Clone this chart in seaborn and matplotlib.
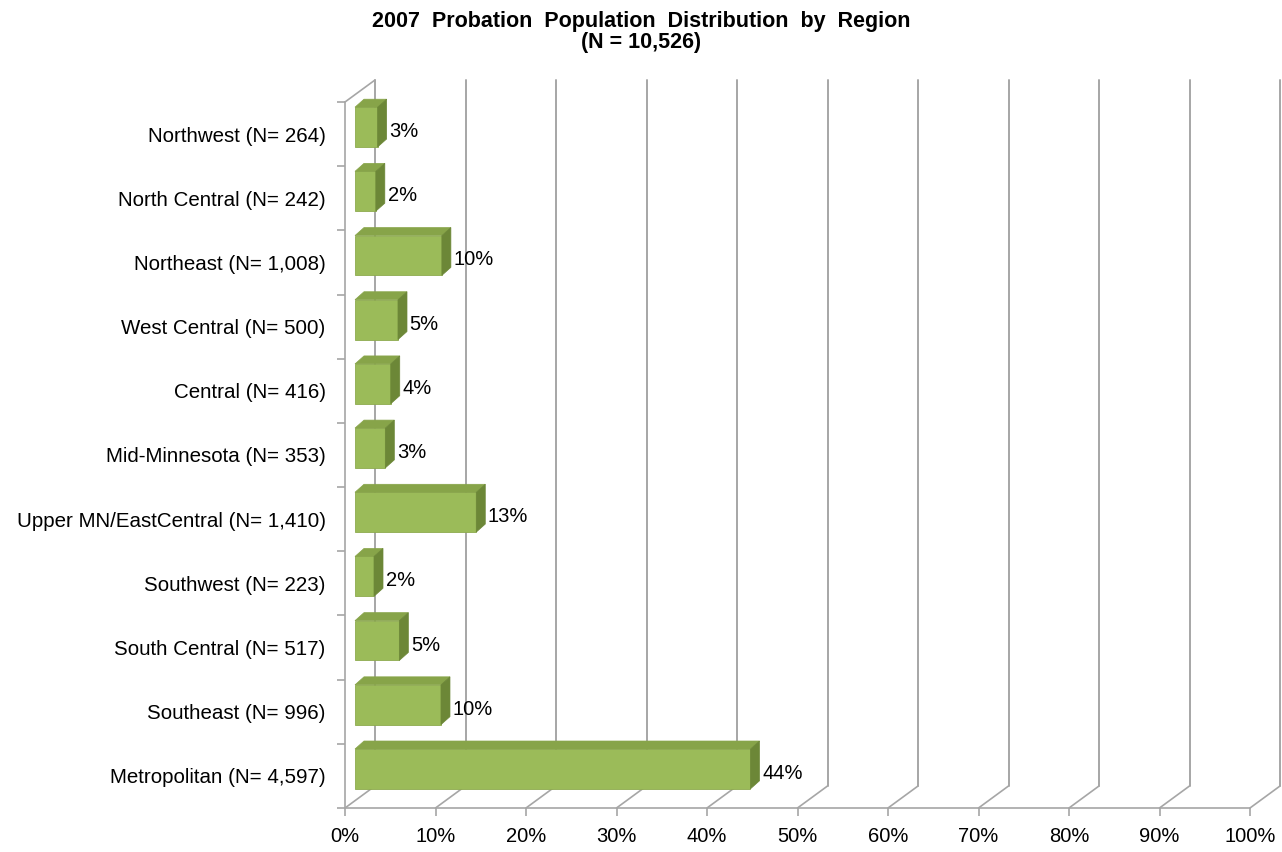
import numpy as np
import matplotlib
matplotlib.use("Agg")
import matplotlib.pyplot as plt
import seaborn as sns
from matplotlib.patches import Polygon

# Data
regions = ['Northwest (N= 264)', 'North Central (N= 242)', 'Northeast (N= 1,008)',
           'West Central (N= 500)', 'Central (N= 416)', 'Mid-Minnesota (N= 353)',
           'Upper MN/EastCentral (N= 1,410)', 'Southwest (N= 223)', 'South Central (N= 517)',
           'Southeast (N= 996)', 'Metropolitan (N= 4,597)']
share_pct = [2.5, 2.3, 9.6, 4.75, 3.95, 3.35, 13.4, 2.1, 4.9, 9.5, 43.7]
bar_labels = ['3%', '2%', '10%', '5%', '4%', '3%', '13%', '2%', '5%', '10%', '44%']
x_ticks = [0, 10, 20, 30, 40, 50, 60, 70, 80, 90, 100]
x_ticklabels = ['0%', '10%', '20%', '30%', '40%', '50%', '60%', '70%', '80%', '90%', '100%']

sns.set_style('white')
plt.rcParams['font.family'] = ['Liberation Sans', 'DejaVu Sans']
plt.rcParams['text.color'] = 'black'
plt.rcParams['xtick.color'] = 'black'
plt.rcParams['ytick.color'] = 'black'

W, H = 1282, 852
fig = plt.figure(figsize=(W / 100, H / 100), dpi=100)
# front plane of the pseudo-3D box (pixels)
left_px, right_px, top_px, bot_px = 345, 1250, 102, 808
ax = fig.add_axes([left_px / W, 1 - bot_px / H, (right_px - left_px) / W, (bot_px - top_px) / H])

n = len(regions)
PX_X = (right_px - left_px) / 100.0      # pixels per percent
PX_Y = (bot_px - top_px) / n             # pixels per category row


def off(px, py):
    # pixel offset (right, up) -> data offset
    return px / PX_X, -py / PX_Y


front_col = '#9BBB59'
top_col = '#87A449'
side_col = '#6C8737'
grid_col = '#A6A6A6'

sns.barplot(x=share_pct, y=regions, orient='h', color=front_col, width=0.62,
            saturation=1, ax=ax, zorder=3)
ax.set_xlim(0, 100)
ax.set_ylim(n - 0.5, -0.5)

# depth of the box and of the bars
bdx, bdy = off(30, 22)
f_dx, f_dy = off(10, 7)
b_dx, b_dy = off(9, 8)

# back wall grid lines and floor diagonals
for xv in x_ticks:
    ax.plot([xv + bdx, xv + bdx], [n - 0.5 + bdy, -0.5 + bdy], color=grid_col, lw=1.4,
            clip_on=False, zorder=1)
    ax.plot([xv, xv + bdx], [n - 0.5, n - 0.5 + bdy], color=grid_col, lw=1.2,
            clip_on=False, zorder=1)
ax.plot([0, bdx], [-0.5, -0.5 + bdy], color=grid_col, lw=1.2, clip_on=False, zorder=1)

# 3D bars
for p, lab in zip(ax.patches, bar_labels):
    p.set_x(p.get_x() + f_dx)
    p.set_y(p.get_y() + f_dy)
    p.set_edgecolor('#8DAA4E')
    p.set_linewidth(0.6)
    x0, y0 = p.get_x(), p.get_y()
    x1, y1 = x0 + p.get_width(), y0 + p.get_height()
    top = Polygon([(x0, y0), (x1, y0), (x1 + b_dx, y0 + b_dy), (x0 + b_dx, y0 + b_dy)],
                  closed=True, facecolor=top_col, edgecolor=top_col, lw=0.5, zorder=3,
                  clip_on=False)
    side = Polygon([(x1, y0), (x1, y1), (x1 + b_dx, y1 + b_dy), (x1 + b_dx, y0 + b_dy)],
                   closed=True, facecolor=side_col, edgecolor=side_col, lw=0.5, zorder=3,
                   clip_on=False)
    ax.add_patch(top)
    ax.add_patch(side)
    ax.text(x1 + b_dx + 0.3, (y0 + y1) / 2 + 0.07, lab, va='center', ha='left',
            fontsize=14.5, color='black', zorder=4)

# axes styling
for s in ['top', 'right']:
    ax.spines[s].set_visible(False)
for s in ['left', 'bottom']:
    ax.spines[s].set_color(grid_col)
    ax.spines[s].set_linewidth(1.2)
ax.set_xticks(x_ticks)
ax.set_xticklabels(x_ticklabels)
ax.set_yticks(np.arange(-0.5, n, 1.0), minor=True)
ax.tick_params(axis='y', which='major', length=0, pad=14, labelsize=14.8)
ax.tick_params(axis='y', which='minor', length=6, color=grid_col, width=1.2, left=True)
ax.tick_params(axis='x', which='major', length=6, color=grid_col, width=1.2, bottom=True,
               pad=8, labelsize=14.5, labelcolor='black')
ax.tick_params(axis='y', labelcolor='black')
ax.set_xlabel('')
ax.set_ylabel('')
ax.patch.set_alpha(0)

fig.suptitle('2007  Probation  Population  Distribution  by  Region\n(N = 10,526)',
             x=0.5, y=1 - 11 / H, va='top', fontsize=15.5, fontweight='bold',
             linespacing=1.0)

fig.savefig('out.png', dpi=100)
